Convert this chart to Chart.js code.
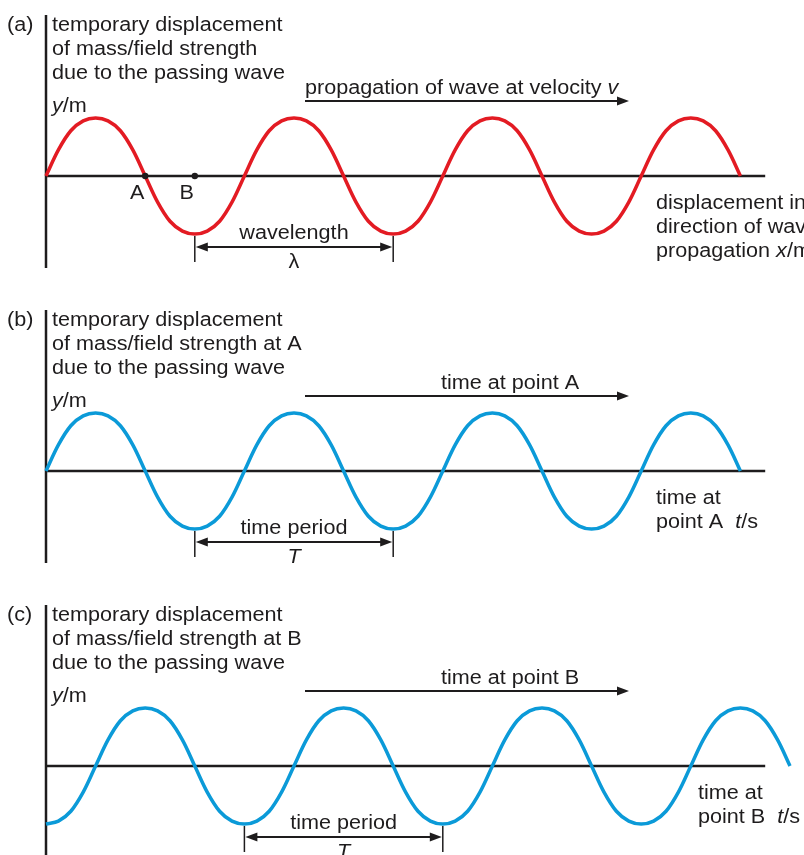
<!DOCTYPE html>
<html>
<head>
<meta charset="utf-8">
<title>Wave displacement and time graphs</title>
<script src="https://cdn.jsdelivr.net/npm/chart.js@4.4.1/dist/chart.umd.min.js"></script>
<style>
  html, body { margin: 0; padding: 0; background: #fff; overflow: hidden; }
  #wrap { position: relative; width: 804px; height: 855px; overflow: hidden; }
  .panel { position: absolute; left: 0; width: 804px; height: 295px; }
</style>
</head>
<body>
<div id="wrap">
  <div class="panel" style="top:0px"><canvas id="wave-a" width="804" height="295"></canvas></div>
  <div class="panel" style="top:295px"><canvas id="wave-b" width="804" height="295"></canvas></div>
  <div class="panel" style="top:590px"><canvas id="wave-c" width="804" height="295"></canvas></div>
</div>
<script>
(function () {
  'use strict';

  // ── Data (x in quarter wavelengths / quarter periods, y in amplitudes) ──

  const xA = [0, 0.25, 0.5, 0.75, 1, 1.25, 1.5, 1.75, 2, 2.25, 2.5, 2.75, 3, 3.25, 3.5, 3.75,
              4, 4.25, 4.5, 4.75, 5, 5.25, 5.5, 5.75, 6, 6.25, 6.5, 6.75, 7, 7.25, 7.5, 7.75,
              8, 8.25, 8.5, 8.75, 9, 9.25, 9.5, 9.75, 10, 10.25, 10.5, 10.75, 11, 11.25, 11.5, 11.75,
              12, 12.25, 12.5, 12.75, 13, 13.25, 13.5, 13.75, 14];
  const yA = [0, 0.45, 0.78, 0.95, 1, 0.95, 0.78, 0.45, 0, -0.45, -0.78, -0.95, -1, -0.95, -0.78, -0.45,
              0, 0.45, 0.78, 0.95, 1, 0.95, 0.78, 0.45, 0, -0.45, -0.78, -0.95, -1, -0.95, -0.78, -0.45,
              0, 0.45, 0.78, 0.95, 1, 0.95, 0.78, 0.45, 0, -0.45, -0.78, -0.95, -1, -0.95, -0.78, -0.45,
              0, 0.45, 0.78, 0.95, 1, 0.95, 0.78, 0.45, 0];

  const xB = [0, 0.25, 0.5, 0.75, 1, 1.25, 1.5, 1.75, 2, 2.25, 2.5, 2.75, 3, 3.25, 3.5, 3.75,
              4, 4.25, 4.5, 4.75, 5, 5.25, 5.5, 5.75, 6, 6.25, 6.5, 6.75, 7, 7.25, 7.5, 7.75,
              8, 8.25, 8.5, 8.75, 9, 9.25, 9.5, 9.75, 10, 10.25, 10.5, 10.75, 11, 11.25, 11.5, 11.75,
              12, 12.25, 12.5, 12.75, 13, 13.25, 13.5, 13.75, 14];
  const yB = [0, 0.45, 0.78, 0.95, 1, 0.95, 0.78, 0.45, 0, -0.45, -0.78, -0.95, -1, -0.95, -0.78, -0.45,
              0, 0.45, 0.78, 0.95, 1, 0.95, 0.78, 0.45, 0, -0.45, -0.78, -0.95, -1, -0.95, -0.78, -0.45,
              0, 0.45, 0.78, 0.95, 1, 0.95, 0.78, 0.45, 0, -0.45, -0.78, -0.95, -1, -0.95, -0.78, -0.45,
              0, 0.45, 0.78, 0.95, 1, 0.95, 0.78, 0.45, 0];

  const xC = [0, 0.25, 0.5, 0.75, 1, 1.25, 1.5, 1.75, 2, 2.25, 2.5, 2.75, 3, 3.25, 3.5, 3.75,
              4, 4.25, 4.5, 4.75, 5, 5.25, 5.5, 5.75, 6, 6.25, 6.5, 6.75, 7, 7.25, 7.5, 7.75,
              8, 8.25, 8.5, 8.75, 9, 9.25, 9.5, 9.75, 10, 10.25, 10.5, 10.75, 11, 11.25, 11.5, 11.75,
              12, 12.25, 12.5, 12.75, 13, 13.25, 13.5, 13.75, 14, 14.25, 14.5, 14.75, 15];
  const yC = [-1, -0.95, -0.78, -0.45, 0, 0.45, 0.78, 0.95, 1, 0.95, 0.78, 0.45, 0, -0.45, -0.78, -0.95,
              -1, -0.95, -0.78, -0.45, 0, 0.45, 0.78, 0.95, 1, 0.95, 0.78, 0.45, 0, -0.45, -0.78, -0.95,
              -1, -0.95, -0.78, -0.45, 0, 0.45, 0.78, 0.95, 1, 0.95, 0.78, 0.45, 0, -0.45, -0.78, -0.95,
              -1, -0.95, -0.78, -0.45, 0, 0.45, 0.78, 0.95, 1, 0.95, 0.78, 0.45, 0];

  // marked points on wave (a)
  const pointLabels = ['A', 'B'];
  const pointX      = [2, 3];

  // span arrows (wavelength / period), from trough to trough
  const spanA = [3, 7];
  const spanB = [3, 7];
  const spanC = [4, 8];

  const axisEnd = 14.5;

  const colors = {
    red:  '#e31b23',
    blue: '#0b9ad8',
    ink:  '#1e1c1d'
  };

  const FONT = '"Liberation Sans", Arial, Helvetica, sans-serif';
  const STRETCH = 1.08;

  // ── Helpers ──────────────────────────────────────

  function setFont(ctx, italic) {
    ctx.font = (italic ? 'italic ' : '') + '20px ' + FONT;
  }

  // segs: array of [text, italic]
  function drawRich(ctx, segs, x, y, align) {
    let total = 0;
    segs.forEach(s => { setFont(ctx, s[1]); total += ctx.measureText(s[0]).width; });
    let cx = 0;
    ctx.save();
    ctx.translate(align === 'center' ? x - total * STRETCH / 2 : x, y);
    ctx.scale(STRETCH, 1);
    ctx.fillStyle = colors.ink;
    ctx.textAlign = 'left';
    ctx.textBaseline = 'alphabetic';
    segs.forEach(s => {
      setFont(ctx, s[1]);
      ctx.fillText(s[0], cx, 0);
      cx += ctx.measureText(s[0]).width;
    });
    ctx.restore();
  }

  function line(ctx, x1, y1, x2, y2, w) {
    ctx.beginPath();
    ctx.moveTo(x1, y1);
    ctx.lineTo(x2, y2);
    ctx.lineWidth = w;
    ctx.strokeStyle = colors.ink;
    ctx.stroke();
  }

  function head(ctx, x, y, dir) {
    ctx.beginPath();
    ctx.moveTo(x, y);
    ctx.lineTo(x - dir * 12, y - 4.5);
    ctx.lineTo(x - dir * 12, y + 4.5);
    ctx.closePath();
    ctx.fillStyle = colors.ink;
    ctx.fill();
  }

  // ── Panel plugin ─────────────────────────────────

  const panelPlugin = {
    id: 'panelDecor',
    beforeDatasetsDraw(chart, args, o) {
      const ctx = chart.ctx;
      const xs = chart.scales.x, ys = chart.scales.y;
      const x0 = xs.getPixelForValue(0);
      const yb = ys.getPixelForValue(0);
      ctx.save();
      line(ctx, x0, 15, x0, 268, 2.5);                         // y axis
      line(ctx, x0, yb, xs.getPixelForValue(axisEnd), yb, 2.5); // baseline
      ctx.restore();
    },
    afterDatasetsDraw(chart, args, o) {
      const ctx = chart.ctx;
      const xs = chart.scales.x;
      ctx.save();

      drawRich(ctx, [[o.tag, false]], 7, 31);
      o.title.forEach((t, i) => drawRich(ctx, t, 52, 31 + i * 24));
      drawRich(ctx, [['y', true], ['/m', false]], 52, 112);

      // direction arrow
      drawRich(ctx, o.topText, o.topTextX, 94);
      line(ctx, 305, 101, 620, 101, 2);
      head(ctx, 629, 101, 1);

      // right-hand axis label
      o.right.forEach((t, i) => drawRich(ctx, t, o.rightX, 209 + i * 24));

      // span arrow
      const s1 = xs.getPixelForValue(o.span[0]);
      const s2 = xs.getPixelForValue(o.span[1]);
      line(ctx, s1, 236, s1, 262, 1.5);
      line(ctx, s2, 236, s2, 262, 1.5);
      line(ctx, s1 + 8, 247, s2 - 8, 247, 2);
      head(ctx, s1 + 1, 247, -1);
      head(ctx, s2 - 1, 247, 1);
      drawRich(ctx, [[o.spanText, false]], (s1 + s2) / 2, 239, 'center');
      drawRich(ctx, [[o.spanSym[0], o.spanSym[1]]], (s1 + s2) / 2, 268, 'center');

      // point labels
      if (o.points) {
        pointLabels.forEach((lab, i) => {
          drawRich(ctx, [[lab, false]], xs.getPixelForValue(pointX[i]) - 8, 199, 'center');
        });
      }
      ctx.restore();
    }
  };

  // ── Chart builder ────────────────────────────────

  function makePanel(id, xv, yv, color, decor) {
    const datasets = [{
      data: xv.map((x, i) => ({ x: x, y: yv[i] })),
      borderColor: color,
      borderWidth: 3.5,
      pointRadius: 0,
      fill: false,
      tension: 0.35,
      order: 2,
      clip: false
    }];
    if (decor.points) {
      datasets.push({
        data: pointX.map(x => ({ x: x, y: 0 })),
        showLine: false,
        pointRadius: 3.2,
        pointBackgroundColor: colors.ink,
        pointBorderColor: colors.ink,
        pointBorderWidth: 0,
        order: 1,
        clip: false
      });
    }
    return new Chart(document.getElementById(id), {
      type: 'line',
      data: { datasets },
      options: {
        responsive: false,
        animation: false,
        events: [],
        devicePixelRatio: 1,
        layout: { padding: { left: 46, right: 14, top: 118, bottom: 61 } },
        scales: {
          x: { type: 'linear', min: 0, max: 15, display: false },
          y: { type: 'linear', min: -1, max: 1, display: false }
        },
        plugins: {
          legend: { display: false },
          tooltip: { enabled: false },
          panelDecor: decor
        }
      },
      plugins: [panelPlugin]
    });
  }

  makePanel('wave-a', xA, yA, colors.red, {
    tag: '(a)',
    title: [[['temporary displacement', false]],
            [['of mass/field strength', false]],
            [['due to the passing wave', false]]],
    topText: [['propagation of wave at velocity ', false], ['v', true]],
    topTextX: 305,
    right: [[['displacement in', false]],
            [['direction of wave', false]],
            [['propagation ', false], ['x', true], ['/m', false]]],
    rightX: 656,
    span: spanA,
    spanText: 'wavelength',
    spanSym: ['λ', false],
    points: true
  });

  makePanel('wave-b', xB, yB, colors.blue, {
    tag: '(b)',
    title: [[['temporary displacement', false]],
            [['of mass/field strength at A', false]],
            [['due to the passing wave', false]]],
    topText: [['time at point A', false]],
    topTextX: 441,
    right: [[['time at', false]],
            [['point A  ', false], ['t', true], ['/s', false]]],
    rightX: 656,
    span: spanB,
    spanText: 'time period',
    spanSym: ['T', true],
    points: false
  });

  makePanel('wave-c', xC, yC, colors.blue, {
    tag: '(c)',
    title: [[['temporary displacement', false]],
            [['of mass/field strength at B', false]],
            [['due to the passing wave', false]]],
    topText: [['time at point B', false]],
    topTextX: 441,
    right: [[['time at', false]],
            [['point B  ', false], ['t', true], ['/s', false]]],
    rightX: 698,
    span: spanC,
    spanText: 'time period',
    spanSym: ['T', true],
    points: false
  });
})();
</script>
</body>
</html>
